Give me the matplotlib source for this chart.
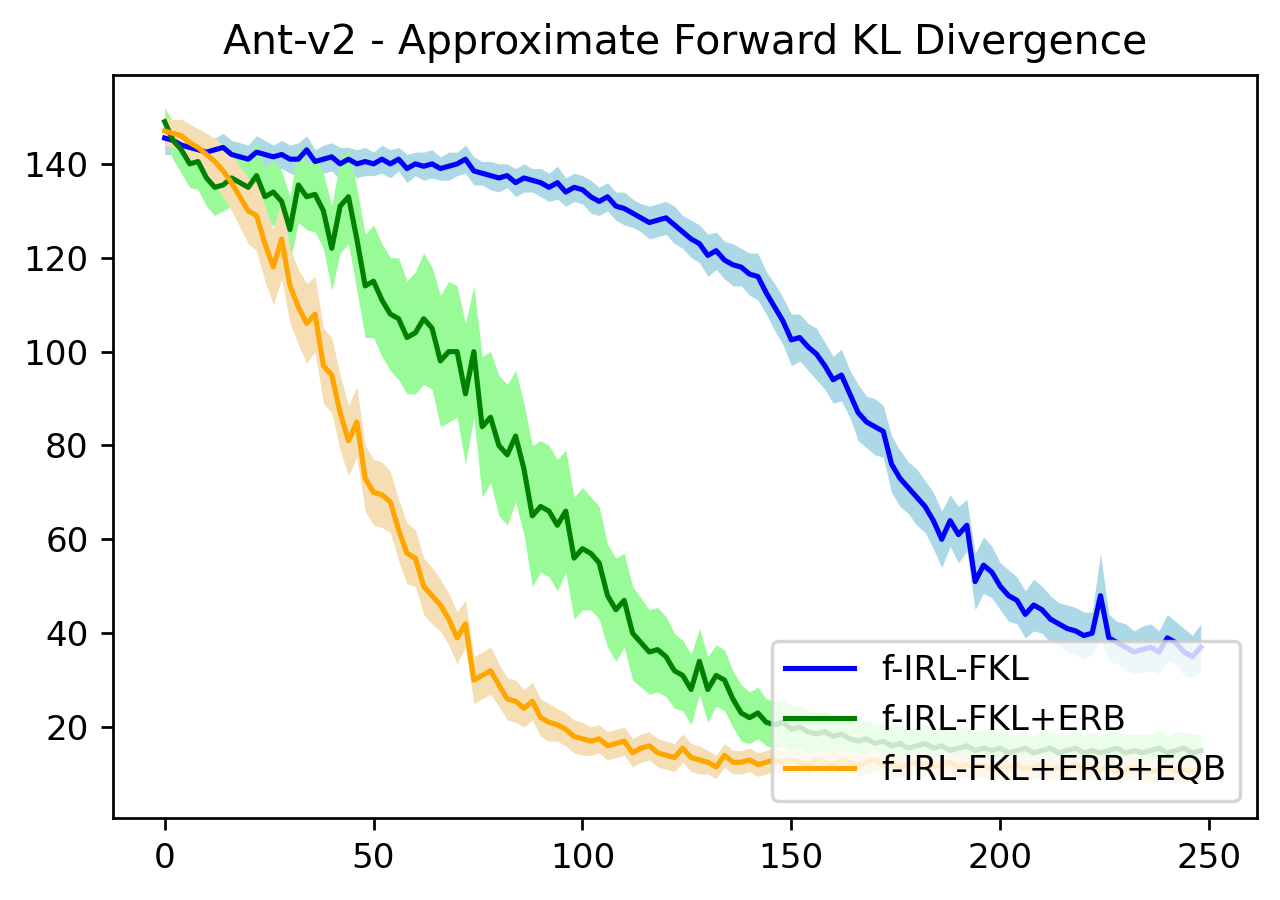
import numpy as np
import matplotlib
matplotlib.use('Agg')
import matplotlib.pyplot as plt

# Read-off values (every 2nd iteration)
steps = np.arange(0, 250, 2)

fkl_mean = [145.5, 145, 144, 143.5, 143, 142.5, 143, 143.5, 142, 141.5,
            141, 142.5, 142, 141.5, 142, 141, 141, 143, 140.5, 141,
            141.5, 140, 141, 140, 140.5, 140, 141, 140, 141, 139,
            140, 139.5, 140, 139, 139.5, 140, 141, 138.5, 138, 137.5,
            137, 137.5, 136, 137, 136.5, 136, 135, 136, 134, 135,
            134.5, 133, 132, 133, 131, 130.5, 129.5, 128.5, 127.5, 128,
            128.5, 127, 125.5, 124, 123, 120.5, 121.5, 119.5, 118.5, 118,
            116.5, 116, 112.5, 109.5, 106.5, 102.5, 103, 101, 99.5, 97,
            94, 95, 91, 87, 85, 84, 83, 76, 73, 71,
            69, 67, 64, 60, 64, 61, 63, 51, 54.5, 53,
            50, 48, 47, 44, 46, 45, 43, 42, 41, 40.5,
            39.5, 40, 48, 39, 38, 37, 36, 36.5, 37, 36,
            39, 38, 36, 35, 37]
fkl_std = [3.5, 3, 3, 2.5, 3, 3, 2.5, 3, 3, 3,
           3, 3.5, 3, 2.5, 3, 3, 3.5, 3, 2.5, 3,
           3, 3.5, 2.5, 3, 3, 2.5, 3, 3, 2.5, 3,
           2.5, 3, 3, 2.5, 3, 2.5, 3, 3, 2.5, 3,
           3, 2.5, 3, 3, 2.5, 3, 3, 3.5, 3, 3,
           3, 3.5, 3, 3, 3, 3.5, 3, 3, 3.5, 3.5,
           3.5, 4, 3.5, 4, 4, 4.5, 4, 4, 4.5, 4,
           4.5, 5, 4.5, 5, 5, 5.5, 5, 5, 5.5, 5,
           5, 5.5, 5, 6, 5.5, 6, 5.5, 6, 6, 5.5,
           6, 5.5, 6, 6, 5.5, 6, 5.5, 6, 6, 5.5,
           5, 5.5, 5, 5, 5.5, 5, 5, 4.5, 5, 5,
           5, 4.5, 9, 5, 4.5, 5, 4.5, 5, 5, 4.5,
           5, 4.5, 5, 4.5, 5]

erb_mean = [149, 145, 143, 140, 140.5, 137, 135, 135.5, 137, 136,
            135, 137.5, 133, 134, 132, 126, 135.5, 133, 133.5, 130,
            122, 131, 133, 124, 114, 115, 111, 108, 107, 103,
            104, 107, 105, 98, 100, 100, 91, 100, 84, 86,
            80, 78, 82, 75, 65, 67, 66, 63, 66, 56,
            58, 57, 55, 48, 45, 47, 40, 38, 36, 36.5,
            35, 32, 31, 28, 34, 28, 31, 30, 26, 23,
            22, 23, 21, 20.5, 21, 19.5, 20, 19, 18.5, 19,
            18, 18.5, 17.5, 17, 17.5, 16.5, 17, 16, 16.5, 15.5,
            16, 16.5, 15.5, 16, 15, 15.5, 16, 15, 15.5, 15,
            15.5, 14.5, 15, 15.5, 14.5, 15, 15.5, 14.5, 15, 15.5,
            14.5, 15, 14.5, 15, 15.5, 14.5, 15, 14.5, 15, 15.5,
            14.5, 15, 15.5, 14.5, 15]
erb_std = [3, 4, 5, 5, 6, 6, 6, 5.5, 6, 6,
           6.5, 7, 6, 7, 6.5, 7, 8, 7, 8, 8,
           9, 10, 10, 11, 11, 12, 12, 12, 13, 12,
           13, 14, 13, 14, 15, 14, 15, 14, 15, 14,
           15, 15, 14, 14, 15, 14, 14, 14, 13, 13,
           13, 12, 12, 11, 11, 10, 10, 9.5, 9, 9,
           8.5, 8, 7.5, 7.5, 7, 7, 6.5, 6.5, 6, 6,
           5.5, 5.5, 5, 5, 5, 5, 4.5, 4.5, 4.5, 4.5,
           4.5, 4, 4, 4, 4, 4, 4, 4, 4, 4,
           4, 4, 4, 4, 4, 4, 4, 4, 4, 4,
           3.5, 4, 3.5, 4, 3.5, 4, 3.5, 4, 3.5, 4,
           3.5, 4, 3.5, 4, 3.5, 4, 3.5, 4, 3.5, 4,
           3.5, 4, 3.5, 4, 3.5]

eqb_mean = [147, 146.5, 146, 144.5, 143.5, 142, 140.5, 138.5, 136, 133,
            130, 129, 123, 118, 124, 114, 109.5, 106, 108, 97,
            95, 87, 81, 85, 73, 70, 69.5, 68, 62, 57,
            56, 50, 48, 46, 43, 39, 42, 30, 31, 32,
            29, 26, 25.5, 24, 25.5, 22, 21, 20.5, 19.5, 18,
            17.5, 17, 17.5, 16, 16.5, 17, 14.5, 15.5, 16, 14.5,
            14, 13.5, 15.5, 13.5, 13, 12.5, 11.5, 14, 12.5, 12.5,
            13, 12, 12.5, 13, 12.5, 13, 12.5, 12, 13, 12.5,
            12, 13, 12.5, 12, 12.5, 13, 12, 12.5, 11.5, 12,
            12.5, 12, 11.5, 12, 12.5, 11.5, 12, 11.5, 12, 11,
            11.5, 11.5, 12, 11, 11.5, 12, 11, 11.5, 11, 12,
            11, 11.5, 11, 11.5, 10.5, 11, 11.5, 11, 10.5, 11,
            11.5, 10.5, 11, 10.5, 11]
eqb_std = [3, 3, 3.5, 4, 4, 4.5, 5, 5.5, 6, 6.5,
           7, 7.5, 8, 8, 8.5, 8, 8, 8.5, 8, 8,
           8, 8, 7.5, 7.5, 7, 7, 7, 6.5, 6.5, 6.5,
           6, 6, 6, 5.5, 5.5, 5.5, 5, 5, 5, 5,
           4.5, 4.5, 4.5, 4, 4, 4, 4, 3.5, 3.5, 3.5,
           3.5, 3, 3, 3, 3, 3, 3, 3, 3, 3,
           3, 3, 3, 3, 3, 2.5, 2.5, 2.5, 2.5, 2.5,
           2.5, 2.5, 2.5, 2.5, 2.5, 2.5, 2.5, 2.5, 2.5, 2.5,
           2.5, 2.5, 2.5, 2.5, 2.5, 2.5, 2.5, 2.5, 2.5, 2.5,
           2.5, 2.5, 2.5, 2.5, 2.5, 2.5, 2.5, 2.5, 2.5, 2.5,
           2.5, 2.5, 2.5, 2.5, 2.5, 2.5, 2.5, 2.5, 2.5, 2.5,
           2.5, 2.5, 2.5, 2.5, 2.5, 2.5, 2.5, 2.5, 2.5, 2.5,
           2.5, 2.5, 2.5, 2.5, 2.5]

labels = ['f-IRL-FKL', 'f-IRL-FKL+ERB', 'f-IRL-FKL+ERB+EQB']
line_colors = ['blue', 'green', 'orange']
band_colors = ['lightblue', 'palegreen', 'wheat']

dpi = 246
fig, ax = plt.subplots(figsize=(1280 / dpi, 900 / dpi), dpi=dpi)
fig.subplots_adjust(left=0.088, right=0.982, bottom=0.091, top=0.917)

means = [np.array(fkl_mean), np.array(erb_mean), np.array(eqb_mean)]
stds = [np.array(fkl_std), np.array(erb_std), np.array(eqb_std)]

for m, s, bc in zip(means, stds, band_colors):
    ax.fill_between(steps, m - s, m + s, color=bc, linewidth=0)
for m, lc, lab in zip(means, line_colors, labels):
    ax.plot(steps, m, color=lc, label=lab)

ax.set_title('Ant-v2 - Approximate Forward KL Divergence')
ax.set_xlim(-12.45, 261.45)
ax.set_ylim(0.6, 159)
ax.legend(loc='lower right')

plt.savefig('out.png', dpi=dpi)
